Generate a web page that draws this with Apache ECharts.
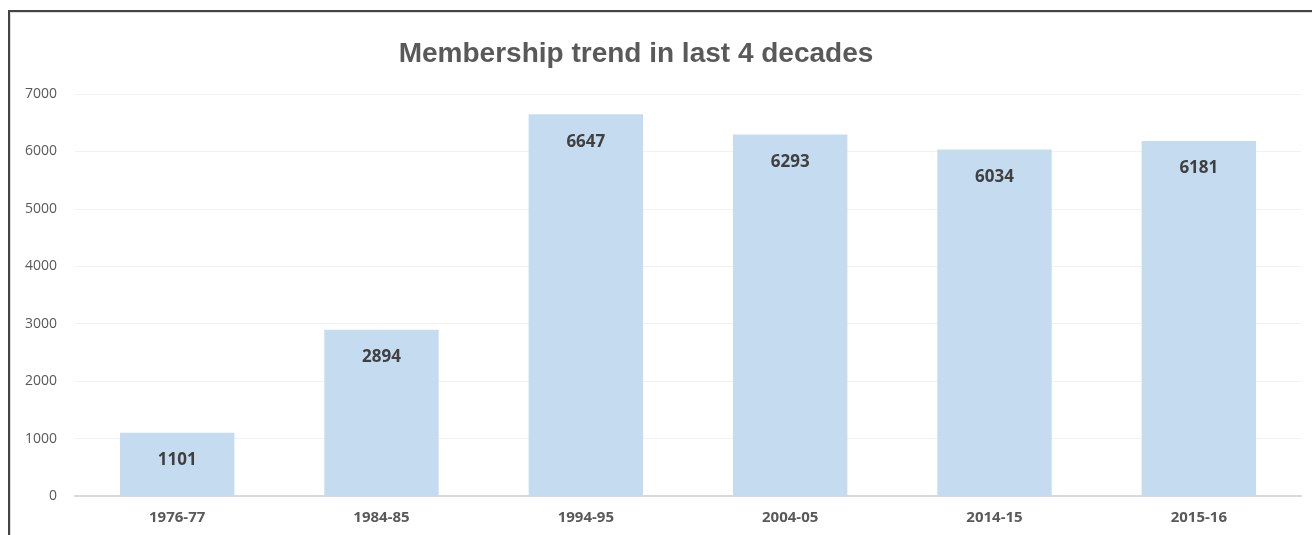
<!DOCTYPE html>
<html><head><meta charset="utf-8">
<script src="https://cdn.jsdelivr.net/npm/echarts@6/dist/echarts.min.js"></script>
<style>
html,body{margin:0;padding:0;background:#fff;overflow:hidden;}
#frame{position:absolute;left:8px;top:10px;width:1400px;height:700px;border:2px solid #444;box-shadow:0 0 0 1px #ddd inset;}
#chart{position:absolute;left:0;top:0;width:1312px;height:535px;}
</style></head>
<body>
<div id="frame"></div>
<div id="chart"></div>
<script>
const categories = ['1976-77','1984-85','1994-95','2004-05','2014-15','2015-16'];
const members = [1101, 2894, 6647, 6293, 6034, 6181];
const titleText = 'Membership trend in last 4 decades';

const chart = echarts.init(document.getElementById('chart'));
chart.setOption({
  backgroundColor: 'transparent',
  animation: false,
  title: {
    text: titleText,
    left: 631, textAlign: 'center', top: 35,
    textStyle: {fontFamily: 'Liberation Sans', fontSize: 28, fontWeight: 'bold', color: '#595959'}
  },
  grid: {left: 75, right: 11, top: 94, bottom: 39, containLabel: false},
  xAxis: {
    type: 'category', data: categories,
    axisLine: {lineStyle: {color: '#d9d9d9', width: 2}},
    axisTick: {show: false},
    axisLabel: {fontFamily: 'Open Sans', fontSize: 15, fontWeight: 'bold', color: '#595959', margin: 14}
  },
  yAxis: {
    type: 'value', min: 0, max: 7000, interval: 1000,
    axisLine: {show: false}, axisTick: {show: false},
    splitLine: {lineStyle: {color: '#f2f2f2', width: 1}},
    axisLabel: {fontFamily: 'Open Sans', fontSize: 14, color: '#595959', margin: 18,
      formatter: v => String(v)}
  },
  series: [{
    type: 'bar', data: members, barWidth: '56%',
    itemStyle: {color: '#c5dcf0'},
    label: {show: true, position: 'insideTop', distance: 19,
      fontFamily: 'Open Sans', fontSize: 17, fontWeight: 'bold', color: '#404040'}
  }]
});
</script>
</body></html>
